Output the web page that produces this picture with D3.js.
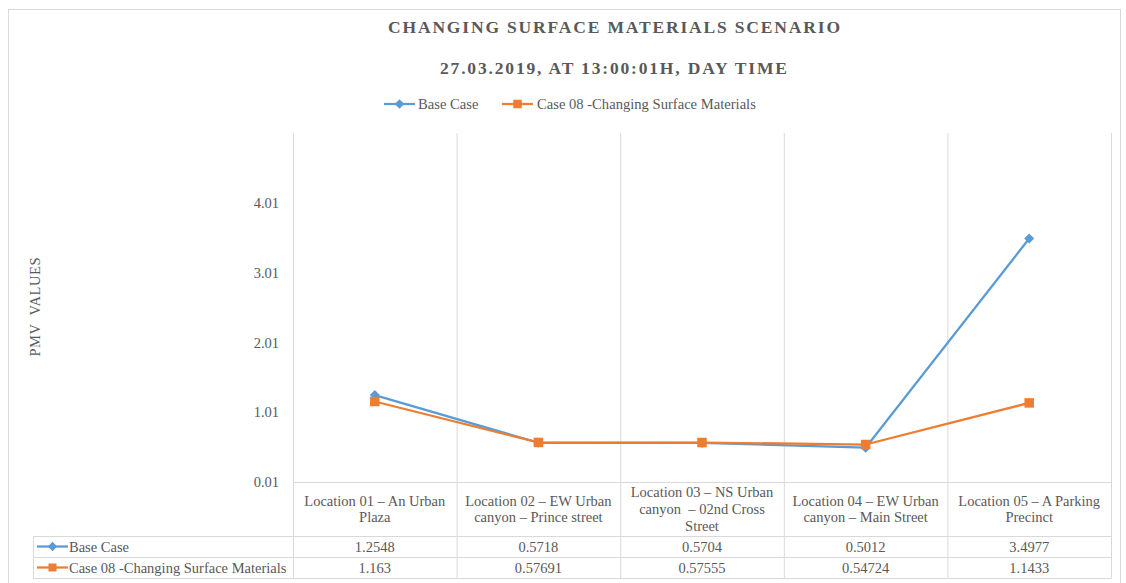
<!DOCTYPE html>
<html><head><meta charset="utf-8">
<script src="https://cdn.jsdelivr.net/npm/d3@7"></script>
<style>
html,body{margin:0;padding:0;background:#fff;}
svg text{font-family:'Liberation Serif',serif;fill:#595959;}
</style></head>
<body><svg id="c" width="1126" height="583"></svg>
<script>
const categories = [
  ["Location 01 – An Urban", "Plaza"],
  ["Location 02 – EW Urban", "canyon – Prince street"],
  ["Location 03 – NS Urban", "canyon  – 02nd Cross", "Street"],
  ["Location 04 – EW Urban", "canyon – Main Street"],
  ["Location 05 – A Parking", "Precinct"]
];
const seriesNames = ["Base Case", "Case 08 -Changing Surface Materials"];
const baseCase = [1.2548, 0.5718, 0.5704, 0.5012, 3.4977];
const case08 = [1.163, 0.57691, 0.57555, 0.54724, 1.1433];
const baseLabels = ["1.2548", "0.5718", "0.5704", "0.5012", "3.4977"];
const case08Labels = ["1.163", "0.57691", "0.57555", "0.54724", "1.1433"];
const yTicks = [0.01, 1.01, 2.01, 3.01, 4.01];
const colors = ["#5B9BD5", "#ED7D31"];
const grid = "#D9D9D9";
const FONT = "'Liberation Serif',serif";

const svg = d3.select("#c");
svg.append("rect").attr("x", 8.5).attr("y", 9.5).attr("width", 1112).attr("height", 580)
  .attr("fill", "none").attr("stroke", grid);

const L = 293, R = 1111, T = 133, B = 482;
const x = d3.scaleBand().domain(d3.range(categories.length)).range([L, R]).paddingInner(0).paddingOuter(0);
const y = d3.scaleLinear().domain([0.01, 5.01]).range([B, T]);

function txt(sel) { return sel.attr("font-family", FONT).attr("fill", "#595959"); }

txt(svg.append("text")).attr("x", 614).attr("y", 33).attr("text-anchor", "middle")
  .style("font-size", "17.5px").style("font-weight", "bold")
  .attr("textLength", 452).attr("lengthAdjust", "spacing")
  .text("CHANGING SURFACE MATERIALS SCENARIO");
txt(svg.append("text")).attr("x", 613.5).attr("y", 73.5).attr("text-anchor", "middle")
  .style("font-size", "17.5px").style("font-weight", "bold")
  .attr("textLength", 347).attr("lengthAdjust", "spacing")
  .text("27.03.2019, AT 13:00:01H, DAY TIME");

const legendItems = [{x: 384, tx: 418}, {x: 502, tx: 537}];
function marker(g, i, cx, cy, s) {
  if (i === 0) {
    g.append("path").attr("d", d3.symbol().type(d3.symbolDiamond2).size(s)())
      .attr("transform", `translate(${cx},${cy})`).attr("fill", colors[0]);
  } else {
    g.append("rect").attr("x", cx - Math.sqrt(s)/2).attr("y", cy - Math.sqrt(s)/2)
      .attr("width", Math.sqrt(s)).attr("height", Math.sqrt(s)).attr("fill", colors[1]);
  }
}
seriesNames.forEach((n, i) => {
  const g = svg.append("g");
  const lx = legendItems[i].x;
  g.append("line").attr("x1", lx).attr("x2", lx + 31).attr("y1", 104).attr("y2", 104)
    .attr("stroke", colors[i]).attr("stroke-width", 2.25);
  marker(g, i, lx + 15.5, 104, i === 0 ? 60 : 72);
  txt(g.append("text")).attr("x", legendItems[i].tx).attr("y", 108.5).style("font-size", "14.6px").text(n);
});

txt(svg.append("text")).attr("transform", "translate(40,307) rotate(-90)").attr("text-anchor", "middle")
  .style("font-size", "14.5px").attr("xml:space", "preserve")
  .attr("textLength", 99).attr("lengthAdjust", "spacing").text("PMV  VALUES");

const yAxis = d3.axisLeft(y).tickValues(yTicks).tickSize(0).tickPadding(14).tickFormat(d3.format(".2f"));
const ya = svg.append("g").attr("transform", `translate(${L},0)`).call(yAxis);
ya.select(".domain").remove();
ya.selectAll("text").style("font-size", "14.5px").attr("font-family", FONT).attr("fill", "#595959");

const tableBottom = 578;
const bounds = d3.range(categories.length + 1).map(i => i < categories.length ? x(i) : x(categories.length - 1) + x.bandwidth());
svg.selectAll(".vg").data(bounds).enter().append("line")
  .attr("x1", d => d + 0.5).attr("x2", d => d + 0.5).attr("y1", T).attr("y2", tableBottom)
  .attr("stroke", grid);

const rowH = [482, 536, 557, 578];
rowH.forEach((ry, i) => {
  svg.append("line").attr("x1", i === 0 ? L : 33).attr("x2", R + 0.5)
    .attr("y1", ry + 0.5).attr("y2", ry + 0.5).attr("stroke", grid);
});
svg.append("line").attr("x1", 33.5).attr("x2", 33.5).attr("y1", 536).attr("y2", 578).attr("stroke", grid);

categories.forEach((lines, i) => {
  const cx = x(i) + x.bandwidth() / 2;
  const n = lines.length;
  const lh = 16.7;
  const t = txt(svg.append("text")).attr("text-anchor", "middle").style("font-size", "14.5px").attr("xml:space", "preserve");
  lines.forEach((ln, j) => {
    t.append("tspan").attr("x", cx).attr("y", 514 + (j - (n - 1) / 2) * lh).text(ln);
  });
});

[baseLabels, case08Labels].forEach((labs, r) => {
  const ry = (rowH[r + 1] + rowH[r + 2]) / 2;
  labs.forEach((v, i) => {
    txt(svg.append("text")).attr("x", x(i) + x.bandwidth() / 2).attr("y", ry + 5)
      .attr("text-anchor", "middle").style("font-size", "14.5px").text(v);
  });
  const g = svg.append("g");
  g.append("line").attr("x1", 37).attr("x2", 68).attr("y1", ry).attr("y2", ry)
    .attr("stroke", colors[r]).attr("stroke-width", 2.25);
  marker(g, r, 52.5, ry, r === 0 ? 55 : 64);
  txt(g.append("text")).attr("x", 69).attr("y", ry + 5).style("font-size", "14.5px").text(seriesNames[r]);
});

const series = [baseCase, case08];
const line = d3.line().x((d, i) => x(i) + x.bandwidth() / 2).y(d => y(d));
series.forEach((s, si) => {
  svg.append("path").datum(s).attr("d", line).attr("fill", "none")
    .attr("stroke", colors[si]).attr("stroke-width", 2.25).attr("stroke-linejoin", "round");
});
series.forEach((s, si) => {
  const g = svg.append("g");
  s.forEach((d, i) => marker(g, si, x(i) + x.bandwidth() / 2, y(d), si === 0 ? 64 : 90));
});
</script></body></html>
